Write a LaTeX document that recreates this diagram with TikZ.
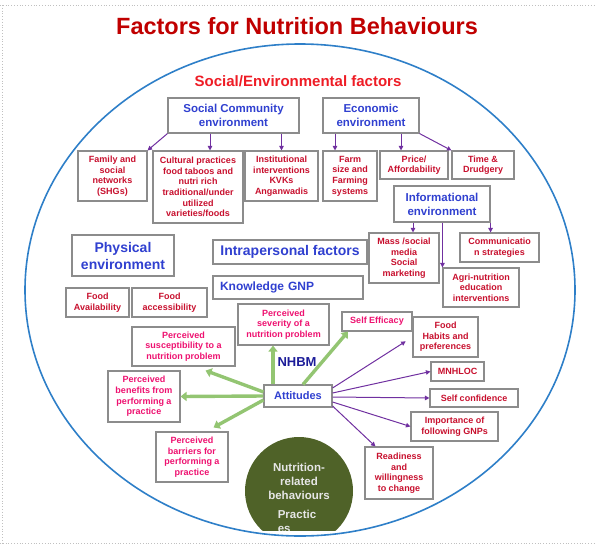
\documentclass[tikz,border=0pt]{standalone}
\usepackage{fontspec}
\setmainfont{Liberation Sans}
\usetikzlibrary{positioning,arrows.meta}
\definecolor{titlered}{HTML}{C00000}
\definecolor{envred}{HTML}{EE1C25}
\definecolor{headblue}{HTML}{3040D0}
\definecolor{navyblue}{HTML}{1C1C99}
\definecolor{factred}{HTML}{C8102E}
\definecolor{perpink}{HTML}{EE1170}
\definecolor{boxgray}{HTML}{8C8C8C}
\definecolor{ellblue}{HTML}{2E7FC8}
\definecolor{arrowpurple}{HTML}{7030A0}
\definecolor{arrowgreen}{HTML}{93C572}
\definecolor{olive}{HTML}{4F6228}
\definecolor{behavgray}{HTML}{E6E6E6}
\definecolor{framegray}{HTML}{C0C0C0}

\begin{document}
\begin{tikzpicture}[x=1pt,y=-1pt,
      wh/.style 2 args={minimum width=#1,minimum height=#2},
      box/.style={draw=boxgray,line width=1.1pt,fill=white,align=center,inner sep=1pt},
      header/.style={box,text=headblue,font=\bfseries\fontsize{11.5}{14}\selectfont},
      bighead/.style={box,text=headblue,font=\bfseries\fontsize{14}{17}\selectfont},
      factor/.style={box,text=factred,font=\bfseries\fontsize{9}{10.6}\selectfont},
      percept/.style={box,text=perpink,font=\bfseries\fontsize{9}{10.6}\selectfont},
      purplearrow/.style={draw=arrowpurple,line width=1pt,-{Triangle[length=4.5pt,width=4.5pt]}},
      greenarrow/.style={draw=arrowgreen,line width=3.4pt,-{Triangle[length=6pt,width=9pt]}},
      behavtext/.style={text=behavgray,font=\bfseries\fontsize{11.5}{14}\selectfont,inner sep=0pt,align=center}]

    \useasboundingbox (0,0) rectangle (596,546);
    \draw[framegray,dotted,line width=0.8pt] (0,5) -- (596,5);
    \draw[framegray,dotted,line width=0.8pt] (2,5) -- (2,543);
    \draw[framegray,dotted,line width=0.8pt] (0,543) -- (596,543);

    \draw[ellblue,line width=1.6pt] (300,290) ellipse [x radius=275,y radius=246];

    \node[text=titlered,font=\bfseries\fontsize{23.5}{26}\selectfont] (title) at (297,26) {Factors for Nutrition Behaviours};
    \node[text=envred,font=\bfseries\fontsize{15}{18}\selectfont] (socenv) at (298,81) {Social/Environmental factors};

    \node[header,wh={131}{35}] (social)   at (233.5,115.5) {Social Community\\environment};
    \node[header,wh={96}{35}]  (economic) at (371,115.5)   {Economic\\environment};

    \node[factor,wh={69}{50}] (family)        at (112.5,176) {Family and\\social\\networks\\(SHGs)};
    \node[factor,wh={90}{72}] (cultural)      at (198,187)   {Cultural practices\\food taboos and\\nutri rich\\traditional/under\\utilized\\varieties/foods};
    \node[factor,wh={73}{50}] (institutional) at (281.5,176) {Institutional\\interventions\\KVKs\\Anganwadis};
    \node[factor,wh={54}{50}] (farm)          at (350,176)   {Farm\\size and\\Farming\\systems};
    \node[factor,wh={68}{28}] (price)         at (414,165)   {Price/\\Affordability};
    \node[factor,wh={62}{28}] (drudgery)      at (483,165)   {Time \&\\Drudgery};

    \node[header,wh={96}{36}] (informational) at (442,204)     {Informational\\environment};
    \node[factor,wh={70}{50}] (massmedia)     at (404,258)     {Mass /social\\media\\Social\\marketing};
    \node[factor,wh={79}{29}] (commstrat)     at (499.5,247.5) {Communicatio\\n strategies};
    \node[factor,wh={76}{39}] (agrinut)       at (481,287.5)   {Agri-nutrition\\education\\interventions};

    \node[bighead,wh={102}{41}] (physical)      at (123,255.5) {Physical\\environment};
    \node[bighead,wh={154}{24}] (intrapersonal) at (290,252)   {Intrapersonal factors};
    \node[box,text=headblue,font=\bfseries\fontsize{12}{14}\selectfont,minimum height=23,
          text width=136,inner xsep=7pt,align=left] (knowledge) at (288,287.5) {Knowledge GNP};

    \node[factor,wh={63}{29}] (foodavail)  at (97.5,302.5)  {Food\\Availability};
    \node[factor,wh={75}{29}] (foodaccess) at (169.5,302.5) {Food\\accessibility};

    \node[percept,wh={91}{41}]  (severity)   at (283.5,324.5) {Perceived\\severity of a\\nutrition problem};
    \node[percept,wh={70}{19}]  (selfeff)    at (377,321.5)   {Self Efficacy};
    \node[percept,wh={103}{39}] (suscept)    at (183.5,346.5) {Perceived\\susceptibility to a\\nutrition problem};
    \node[percept,wh={72}{51}]  (benefits)   at (144,396.5)   {Perceived\\benefits from\\performing a\\practice};
    \node[percept,wh={72}{50}]  (barriers)   at (192,457)     {Perceived\\barriers for\\performing a\\practice};

    \node[factor,wh={65}{40}] (foodhabits) at (445.5,337)   {Food\\Habits and\\preferences};
    \node[factor,wh={53}{19}] (mnhloc)     at (457.5,371.5) {MNHLOC};
    \node[factor,wh={88}{18}] (selfconf)   at (474,398)     {Self confidence};
    \node[factor,wh={87}{29}] (importance) at (454.5,426.5) {Importance of\\following GNPs};
    \node[factor,wh={68}{52}] (readiness)  at (399,473)     {Readiness\\and\\willingness\\to change};

    \node[text=navyblue,font=\bfseries\fontsize{13}{15}\selectfont] (nhbm) at (297,362) {NHBM};
    \node[header,font=\bfseries\fontsize{11}{13}\selectfont,wh={68}{22}] (attitudes) at (298,396) {Attitudes};

    \begin{scope}
      \clip (0,0) rectangle (596,530);
      \node[circle,fill=olive,minimum size=108] (behav) at (299,491) {};
      \node[behavtext] (behavlbl) at (299,481) {Nutrition-\\related\\behaviours};
      \node[behavtext,align=left] (practlbl) at (297,521) {Practic\\es};
    \end{scope}

    \draw[purplearrow] (social.south west) -- (family.north east);
    \draw[purplearrow] ([xshift=12pt]cultural.north |- social.south) -- ([xshift=12pt]cultural.north);
    \draw[purplearrow] (institutional.north |- social.south) -- (institutional.north);
    \draw[purplearrow] ([xshift=-15pt]farm.north |- economic.south) -- ([xshift=-15pt]farm.north);
    \draw[purplearrow] ([xshift=-13pt]price.north |- economic.south) -- ([xshift=-13pt]price.north);
    \draw[purplearrow] (economic.south east) -- (drudgery.north west);

    \draw[purplearrow] ([xshift=9pt]massmedia.north |- informational.south) -- ([xshift=9pt]massmedia.north);
    \draw[purplearrow] (agrinut.north west |- informational.south) -- (agrinut.north west);
    \draw[purplearrow] (informational.south east) -- (informational.south east |- commstrat.north);

    \draw[purplearrow,shorten >=8pt] ([yshift=8pt]attitudes.east) -- (foodhabits.west);
    \draw[purplearrow] ([yshift=3pt]attitudes.east) -- (mnhloc.west);
    \draw[purplearrow] ([yshift=-1pt]attitudes.east) -- (selfconf.west);
    \draw[purplearrow] ([yshift=-6pt]attitudes.east) -- (importance.west);
    \draw[purplearrow] ([yshift=-10pt]attitudes.east) -- ([xshift=11pt]readiness.north west);

    \draw[greenarrow] ([xshift=-25pt]attitudes.north) -- ([xshift=-25pt]attitudes.north |- severity.south);
    \draw[greenarrow] ([xshift=5pt]attitudes.north) -- ([xshift=-29pt]selfeff.south);
    \draw[greenarrow] ([yshift=4pt]attitudes.west) -- ([xshift=22pt,yshift=-4pt]suscept.south);
    \draw[greenarrow] (attitudes.west) -- (benefits.east);
    \draw[greenarrow] ([yshift=-4pt]attitudes.west) -- ([xshift=-15pt,yshift=4pt]barriers.north east);
  \end{tikzpicture}
\end{document}
